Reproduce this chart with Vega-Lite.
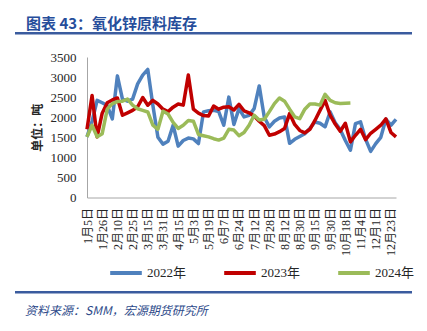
{
  "$schema": "https://vega.github.io/schema/vega-lite/v6.json",
  "padding": {"left": 15, "top": 17, "right": 0, "bottom": 0},
  "background": "white",
  "config": {"view": {"stroke": null}, "axis": {"grid": false}},
  "spacing": 16,
  "resolve": {"scale": {"color": "independent"}, "legend": {"color": "independent"}},
  "vconcat": [
    {
      "width": 397,
      "height": 2.5,
      "view": {"fill": "#3a5b9e", "stroke": null},
      "title": {"text": "图表 43：氧化锌原料库存", "anchor": "start", "dx": 11, "offset": 0, "font": "Noto Sans CJK SC", "fontSize": 15, "fontWeight": "bold", "color": "#264d9b"},
      "data": {"values": [{}]},
      "mark": {"type": "point", "opacity": 0, "size": 0},
      "encoding": {}
    },
    {
      "spacing": 10,
      "resolve": {"scale": {"color": "independent"}, "legend": {"color": "independent"}},
      "vconcat": [
        {
          "spacing": 15,
          "resolve": {"scale": {"color": "independent"}, "legend": {"color": "independent"}},
          "hconcat": [
            {
              "width": 1,
              "height": 1,
              "data": {"values": [{}]},
              "mark": {"type": "point", "opacity": 0, "size": 0},
              "encoding": {}
            },
            {
              "width": 309,
              "height": 140.5,
              "data": {"values": [
                {"d": "1月5日", "2022年": 1510, "2023年": 1700, "2024年": 1510},
                {"d": "1月12日", "2022年": 1900, "2023年": 2540, "2024年": 1800},
                {"d": "1月19日", "2022年": 2420, "2023年": 1510, "2024年": 1510},
                {"d": "1月26日", "2022年": 2360, "2023年": 2100, "2024年": 1590},
                {"d": "1月31日", "2022年": 2290, "2023年": 2360, "2024年": 2200},
                {"d": "2月5日", "2022年": 1960, "2023年": 2430, "2024年": 2340},
                {"d": "2月10日", "2022年": 3030, "2023年": 2480, "2024年": 2390},
                {"d": "2月15日", "2022年": 2450, "2023年": 2050, "2024年": 2400},
                {"d": "2月20日", "2022年": 2400, "2023年": 2110, "2024年": 2450},
                {"d": "2月25日", "2022年": 2450, "2023年": 2170, "2024年": 2300},
                {"d": "3月3日", "2022年": 2830, "2023年": 2260, "2024年": 2210},
                {"d": "3月9日", "2022年": 3050, "2023年": 2490, "2024年": 2170},
                {"d": "3月15日", "2022年": 3190, "2023年": 2300, "2024年": 2130},
                {"d": "3月20日", "2022年": 2300, "2023年": 2420, "2024年": 1800},
                {"d": "3月25日", "2022年": 1500, "2023年": 2330, "2024年": 1700},
                {"d": "3月31日", "2022年": 1330, "2023年": 2200, "2024年": 2150},
                {"d": "4月5日", "2022年": 1400, "2023年": 2140, "2024年": 2080},
                {"d": "4月10日", "2022年": 1800, "2023年": 2250, "2024年": 1870},
                {"d": "4月15日", "2022年": 1280, "2023年": 2330, "2024年": 1720},
                {"d": "4月21日", "2022年": 1420, "2023年": 2300, "2024年": 1800},
                {"d": "4月27日", "2022年": 1480, "2023年": 3050, "2024年": 1920},
                {"d": "5月3日", "2022年": 1460, "2023年": 2200, "2024年": 1900},
                {"d": "5月8日", "2022年": 1343, "2023年": 2100, "2024年": 1570},
                {"d": "5月13日", "2022年": 2132, "2023年": 2040, "2024年": 1540},
                {"d": "5月19日", "2022年": 2160, "2023年": 2030, "2024年": 1510},
                {"d": "5月25日", "2022年": 2172, "2023年": 2280, "2024年": 1465},
                {"d": "6月1日", "2022年": 2140, "2023年": 2200, "2024年": 1430},
                {"d": "6月7日", "2022年": 1800, "2023年": 2250, "2024年": 1480},
                {"d": "6月13日", "2022年": 2500, "2023年": 2260, "2024年": 1700},
                {"d": "6月18日", "2022年": 1820, "2023年": 2180, "2024年": 1680},
                {"d": "6月24日", "2022年": 2214, "2023年": 2320, "2024年": 1540},
                {"d": "6月30日", "2022年": 2007, "2023年": 2160, "2024年": 1620},
                {"d": "7月6日", "2022年": 2047, "2023年": 2110, "2024年": 1800},
                {"d": "7月12日", "2022年": 2214, "2023年": 2030, "2024年": 2047},
                {"d": "7月17日", "2022年": 2780, "2023年": 1900, "2024年": 1930},
                {"d": "7月22日", "2022年": 2000, "2023年": 1790, "2024年": 1950},
                {"d": "7月28日", "2022年": 1760, "2023年": 1550, "2024年": 2140},
                {"d": "8月2日", "2022年": 1900, "2023年": 1580, "2024年": 2340},
                {"d": "8月7日", "2022年": 1980, "2023年": 1640, "2024年": 2480},
                {"d": "8月12日", "2022年": 2007, "2023年": 1720, "2024年": 2400},
                {"d": "8月18日", "2022年": 1350, "2023年": 2090, "2024年": 2200},
                {"d": "8月24日", "2022年": 1450, "2023年": 1820, "2024年": 2010},
                {"d": "8月30日", "2022年": 1520, "2023年": 1670, "2024年": 1965},
                {"d": "9月4日", "2022年": 1590, "2023年": 1610, "2024年": 2200},
                {"d": "9月9日", "2022年": 1720, "2023年": 1700, "2024年": 2330},
                {"d": "9月15日", "2022年": 1880, "2023年": 1920, "2024年": 2330},
                {"d": "9月20日", "2022年": 1850, "2023年": 2170, "2024年": 2300},
                {"d": "9月25日", "2022年": 1760, "2023年": 2420, "2024年": 2570},
                {"d": "9月30日", "2022年": 2132, "2023年": 2050, "2024年": 2420},
                {"d": "10月7日", "2022年": 1860, "2023年": 1830, "2024年": 2360},
                {"d": "10月12日", "2022年": 1690, "2023年": 1650, "2024年": 2340},
                {"d": "10月18日", "2022年": 1420, "2023年": 1850, "2024年": 2350},
                {"d": "10月24日", "2022年": 1177, "2023年": 1385, "2024年": 2356},
                {"d": "10月29日", "2022年": 1840, "2023年": 1550},
                {"d": "11月4日", "2022年": 1883, "2023年": 1700},
                {"d": "11月13日", "2022年": 1450, "2023年": 1440},
                {"d": "11月22日", "2022年": 1150, "2023年": 1600},
                {"d": "12月1日", "2022年": 1343, "2023年": 1700},
                {"d": "12月8日", "2022年": 1500, "2023年": 1800},
                {"d": "12月15日", "2022年": 1950, "2023年": 1960},
                {"d": "12月23日", "2022年": 1800, "2023年": 1620},
                {"d": "12月30日", "2022年": 1945, "2023年": 1510}
              ]},
              "transform": [
                {"fold": ["2022年", "2023年", "2024年"], "as": ["year", "value"]},
                {"filter": "isValid(datum.value)"}
              ],
              "mark": {"type": "line", "strokeWidth": 3.5, "strokeJoin": "round"},
              "encoding": {
                "x": {
                  "field": "d", "type": "ordinal", "sort": null,
                  "scale": {"padding": 0},
                  "axis": {
                    "title": null,
                    "values": ["1月5日", "1月26日", "2月10日", "2月25日", "3月15日", "3月31日", "4月15日", "5月3日", "5月19日", "6月7日", "6月24日", "7月12日", "7月28日", "8月12日", "8月30日", "9月15日", "9月30日", "10月18日", "11月4日", "12月1日", "12月23日"],
                    "labelAngle": -90, "labelAlign": "right", "labelBaseline": "middle",
                    "labelFont": "Liberation Serif, Noto Sans CJK SC", "labelFontSize": 12, "labelColor": "#262626",
                    "labelPadding": 10, "ticks": false, "domainColor": "#a6a6a6", "domainWidth": 1, "labelOverlap": false
                  }
                },
                "y": {
                  "field": "value", "type": "quantitative",
                  "scale": {"domain": [0, 3500]},
                  "axis": {
                    "title": "单位：吨", "titleFont": "Noto Sans CJK SC", "titleFontSize": 12, "titleFontWeight": "bold", "titleColor": "#262626", "titlePadding": 6,
                    "values": [0, 500, 1000, 1500, 2000, 2500, 3000, 3500], "format": "d",
                    "labelFont": "Liberation Serif", "labelFontSize": 13, "labelColor": "#262626",
                    "labelPadding": 11, "ticks": false, "domainColor": "#a6a6a6", "domainWidth": 1
                  }
                },
                "color": {
                  "field": "year", "type": "nominal",
                  "scale": {"domain": ["2022年", "2023年", "2024年"], "range": ["#4f81bd", "#c00000", "#9bbb59"]},
                  "legend": {
                    "orient": "none", "legendX": 21, "legendY": 198, "direction": "horizontal", "title": null,
                    "columns": 3, "gridAlign": "all",
                    "symbolType": "M-1,0H1", "symbolSize": 1000, "symbolStrokeWidth": 4,
                    "labelFont": "Liberation Serif, Noto Sans CJK SC", "labelFontSize": 13, "labelColor": "#262626",
                    "labelOffset": 3, "columnPadding": 29, "padding": 0
                  }
                }
              }
            }
          ]
        },
        {
          "width": 397,
          "height": 2.5,
          "view": {"fill": "#3a5b9e", "stroke": null},
          "title": {"text": "资料来源：SMM，宏源期货研究所", "orient": "bottom", "anchor": "start", "dx": 10, "offset": 12, "font": "Noto Sans CJK SC", "fontSize": 12, "fontStyle": "italic", "fontWeight": "normal", "color": "#2d4a8a"},
          "data": {"values": [{}]},
          "mark": {"type": "point", "opacity": 0, "size": 0},
          "encoding": {}
        }
      ]
    }
  ]
}
